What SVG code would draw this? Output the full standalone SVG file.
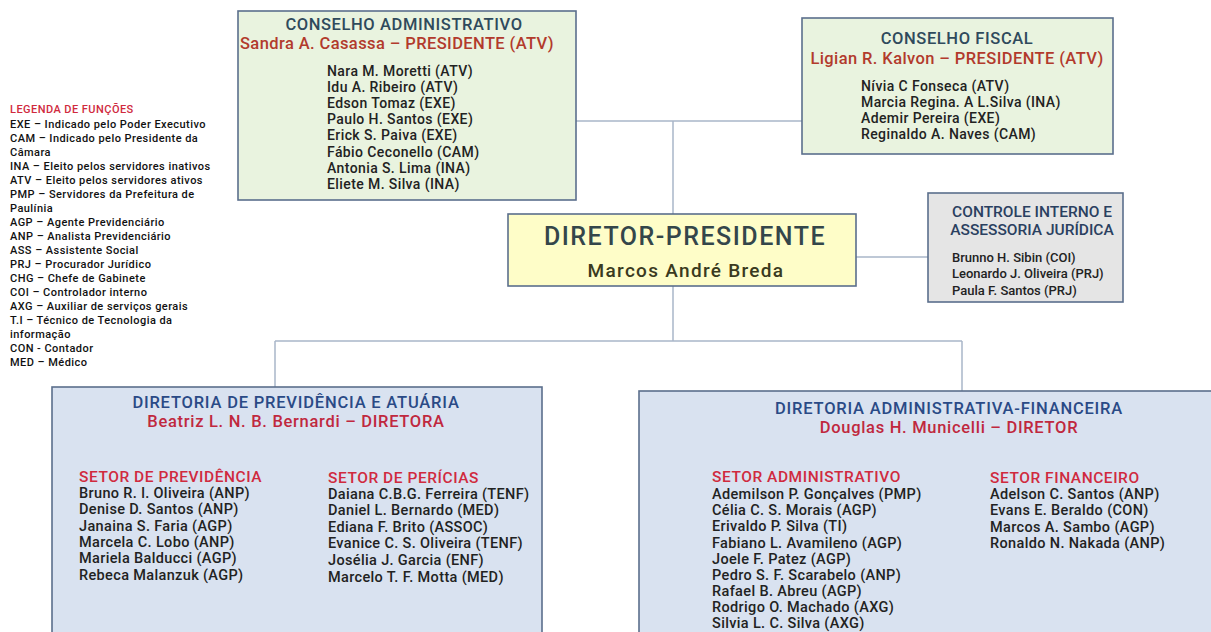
<svg xmlns="http://www.w3.org/2000/svg" width="1211" height="632" viewBox="0 0 1211 632">
<style>
text{font-family:Roboto,"Liberation Sans",sans-serif;}
.box{stroke:#5b6f8c;stroke-width:1.6;}
.green{fill:#e9f3df;}
.blue{fill:#d9e2f0;stroke:#5b6f8c;stroke-width:1.6;}
.t1{font-size:16.5px;fill:#2f4a5c;font-weight:500;text-anchor:middle;letter-spacing:0.6px;}
.r1{font-size:16.5px;fill:#b23a2c;font-weight:500;text-anchor:middle;letter-spacing:0.4px;}
.m{font-size:14px;fill:#222;font-weight:500;letter-spacing:0.4px;}
.ci{font-size:15.5px;fill:#2a4060;font-weight:500;text-anchor:middle;}
.cm{font-size:13px;fill:#222;font-weight:500;}
.bt{font-size:16.5px;fill:#2a4a86;font-weight:500;text-anchor:middle;letter-spacing:0.8px;}
.br{font-size:16.5px;fill:#c0283e;font-weight:500;text-anchor:middle;letter-spacing:0.7px;}
.sec{font-size:15.5px;fill:#d02a3e;font-weight:500;letter-spacing:0.55px;}
.bm{font-size:14.5px;fill:#222;font-weight:500;letter-spacing:0.35px;}
.lg{font-size:11px;fill:#111;font-weight:500;letter-spacing:0.45px;}
.conn{stroke:#a9b6c8;stroke-width:1.5;fill:none;}
</style>
<rect width="1211" height="632" fill="#ffffff"/>
<g id="connectors" class="conn">
<path d="M576 121 H802"/>
<path d="M673 121 V214"/>
<path d="M673 286 V341"/>
<path d="M275 341 H962"/>
<path d="M275 341 V387"/>
<path d="M962 341 V391"/>
<path d="M856 257 H928"/>
</g>
<g id="legenda">
<text class="lg" x="10" y="113" style="fill:#d02a3e">LEGENDA DE FUNÇÕES</text>
<text class="lg" x="10" y="128">EXE – Indicado pelo Poder Executivo</text>
<text class="lg" x="10" y="142">CAM – Indicado pelo Presidente da</text>
<text class="lg" x="10" y="156">Câmara</text>
<text class="lg" x="10" y="170">INA – Eleito pelos servidores inativos</text>
<text class="lg" x="10" y="184">ATV – Eleito pelos servidores ativos</text>
<text class="lg" x="10" y="198">PMP – Servidores da Prefeitura de</text>
<text class="lg" x="10" y="212">Paulínia</text>
<text class="lg" x="10" y="226">AGP – Agente Previdenciário</text>
<text class="lg" x="10" y="240">ANP – Analista Previdenciário</text>
<text class="lg" x="10" y="254">ASS – Assistente Social</text>
<text class="lg" x="10" y="268">PRJ – Procurador Jurídico</text>
<text class="lg" x="10" y="282">CHG – Chefe de Gabinete</text>
<text class="lg" x="10" y="296">COI – Controlador interno</text>
<text class="lg" x="10" y="310">AXG – Auxiliar de serviços gerais</text>
<text class="lg" x="10" y="324">T.I – Técnico de Tecnologia da</text>
<text class="lg" x="10" y="338">informação</text>
<text class="lg" x="10" y="352">CON - Contador</text>
<text class="lg" x="10" y="366">MED – Médico</text>
</g>
<g id="conselho-administrativo">
<rect class="box green" x="238" y="11" width="338" height="189"/>
<text class="t1" x="404" y="30">CONSELHO ADMINISTRATIVO</text>
<text class="r1" x="397" y="49">Sandra A. Casassa – PRESIDENTE (ATV)</text>
<text class="m" x="327" y="76">Nara M. Moretti (ATV)</text>
<text class="m" x="327" y="92">Idu A. Ribeiro (ATV)</text>
<text class="m" x="327" y="108">Edson Tomaz (EXE)</text>
<text class="m" x="327" y="124">Paulo H. Santos (EXE)</text>
<text class="m" x="327" y="140">Erick S. Paiva (EXE)</text>
<text class="m" x="327" y="157">Fábio Ceconello (CAM)</text>
<text class="m" x="327" y="173">Antonia S. Lima (INA)</text>
<text class="m" x="327" y="189">Eliete M. Silva (INA)</text>
</g>
<g id="conselho-fiscal">
<rect class="box green" x="802" y="18" width="311" height="136"/>
<text class="t1" x="957" y="44">CONSELHO FISCAL</text>
<text class="r1" x="957" y="64">Ligian R. Kalvon – PRESIDENTE (ATV)</text>
<text class="m" x="861" y="91">Nívia C Fonseca (ATV)</text>
<text class="m" x="861" y="107">Marcia Regina. A L.Silva (INA)</text>
<text class="m" x="861" y="123">Ademir Pereira (EXE)</text>
<text class="m" x="861" y="139">Reginaldo A. Naves (CAM)</text>
</g>
<g id="diretor-presidente">
<rect class="box" x="508" y="214" width="348" height="72" fill="#fefdc8"/>
<text x="685" y="245" text-anchor="middle" font-size="25" font-weight="500" letter-spacing="1.5" fill="#34464a">DIRETOR-PRESIDENTE</text>
<text x="686" y="277" text-anchor="middle" font-size="19" font-weight="500" letter-spacing="1.3" fill="#3a3a20">Marcos André Breda</text>
</g>
<g id="controle-interno">
<rect class="box" x="928" y="193" width="195" height="109" fill="#e5e5e5"/>
<text class="ci" x="1032" y="217">CONTROLE INTERNO E</text>
<text class="ci" x="1032" y="235">ASSESSORIA JURÍDICA</text>
<text class="cm" x="952" y="262">Brunno H. Sibin (COI)</text>
<text class="cm" x="952" y="278">Leonardo J. Oliveira (PRJ)</text>
<text class="cm" x="952" y="295">Paula F. Santos (PRJ)</text>
</g>
<g id="diretoria-previdencia">
<rect class="blue" x="52" y="387" width="490" height="260"/>
<text class="bt" x="296" y="408">DIRETORIA DE PREVIDÊNCIA E ATUÁRIA</text>
<text class="br" x="296" y="427">Beatriz L. N. B. Bernardi – DIRETORA</text>
<text class="sec" x="79" y="482">SETOR DE PREVIDÊNCIA</text>
<text class="bm" x="79" y="498">Bruno R. l. Oliveira (ANP)</text>
<text class="bm" x="79" y="514">Denise D. Santos (ANP)</text>
<text class="bm" x="79" y="531">Janaina S. Faria (AGP)</text>
<text class="bm" x="79" y="547">Marcela C. Lobo (ANP)</text>
<text class="bm" x="79" y="563">Mariela Balducci (AGP)</text>
<text class="bm" x="79" y="580">Rebeca Malanzuk (AGP)</text>
<text class="sec" x="328" y="483">SETOR DE PERÍCIAS</text>
<text class="bm" x="328" y="499">Daiana C.B.G. Ferreira (TENF)</text>
<text class="bm" x="328" y="515">Daniel L. Bernardo (MED)</text>
<text class="bm" x="328" y="532">Ediana F. Brito (ASSOC)</text>
<text class="bm" x="328" y="548">Evanice C. S. Oliveira (TENF)</text>
<text class="bm" x="328" y="565">Josélia  J. Garcia (ENF)</text>
<text class="bm" x="328" y="582">Marcelo T. F. Motta (MED)</text>
</g>
<g id="diretoria-administrativa">
<rect class="blue" x="639" y="391" width="590" height="260"/>
<text class="bt" x="949" y="414">DIRETORIA ADMINISTRATIVA-FINANCEIRA</text>
<text class="br" x="949" y="433">Douglas H. Municelli – DIRETOR</text>
<text class="sec" x="712" y="482">SETOR ADMINISTRATIVO</text>
<text class="bm" x="712" y="499">Ademilson P. Gonçalves (PMP)</text>
<text class="bm" x="712" y="515">Célia C. S. Morais (AGP)</text>
<text class="bm" x="712" y="531">Erivaldo P. Silva (TI)</text>
<text class="bm" x="712" y="548">Fabiano L. Avamileno (AGP)</text>
<text class="bm" x="712" y="564">Joele F. Patez (AGP)</text>
<text class="bm" x="712" y="580">Pedro S. F. Scarabelo (ANP)</text>
<text class="bm" x="712" y="596">Rafael B. Abreu (AGP)</text>
<text class="bm" x="712" y="612">Rodrigo O. Machado (AXG)</text>
<text class="bm" x="712" y="628">Silvia L. C. Silva (AXG)</text>
<text class="sec" x="990" y="483">SETOR FINANCEIRO</text>
<text class="bm" x="990" y="499">Adelson C. Santos (ANP)</text>
<text class="bm" x="990" y="515">Evans E. Beraldo (CON)</text>
<text class="bm" x="990" y="532">Marcos A. Sambo (AGP)</text>
<text class="bm" x="990" y="548">Ronaldo N. Nakada (ANP)</text>
</g>
</svg>
